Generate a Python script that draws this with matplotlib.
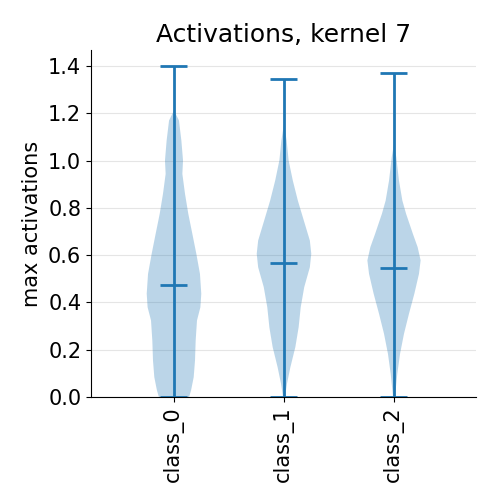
import numpy as np
import matplotlib
matplotlib.use("Agg")
import matplotlib.pyplot as plt

# class names and summary stats
classes = ["class_0", "class_1", "class_2"]
mins = [0.0, 0.0, 0.0]
maxs = [1.40, 1.345, 1.37]
means = [0.472, 0.565, 0.544]

# violin outlines: activation level -> half width (data units)
y_c0 = [0.0, 0.03, 0.086, 0.157, 0.241, 0.326, 0.382, 0.439, 0.523, 0.608, 0.692,
        0.777, 0.862, 0.946, 1.003, 1.087, 1.172, 1.214]
w_c0 = [0.136, 0.155, 0.179, 0.191, 0.197, 0.209, 0.24, 0.248, 0.236, 0.203, 0.167,
        0.13, 0.1, 0.076, 0.082, 0.067, 0.045, 0.0]
y_c1 = [0.0, 0.058, 0.128, 0.213, 0.297, 0.382, 0.467, 0.551, 0.608, 0.664, 0.749,
        0.833, 0.918, 1.003, 1.087, 1.158]
w_c1 = [0.008, 0.027, 0.058, 0.103, 0.133, 0.152, 0.184, 0.235, 0.248, 0.235, 0.18,
        0.126, 0.08, 0.042, 0.024, 0.0]
y_c2 = [0.0, 0.1, 0.185, 0.27, 0.354, 0.439, 0.523, 0.58, 0.636, 0.692, 0.777,
        0.833, 0.918, 1.016, 1.073]
w_c2 = [0.008, 0.03, 0.055, 0.091, 0.136, 0.185, 0.227, 0.242, 0.215, 0.172, 0.11,
        0.076, 0.045, 0.021, 0.0]

profiles = [(y_c0, w_c0), (y_c1, w_c1), (y_c2, w_c2)]

fig, ax = plt.subplots(figsize=(5, 5), dpi=100)
fig.subplots_adjust(left=0.182, right=0.952, bottom=0.206, top=0.9)

pos = np.arange(1, len(classes) + 1)
for p, (yy, ww) in zip(pos, profiles):
    yy = np.array(yy)
    ww = np.array(ww)
    ax.fill_betweenx(yy, p - ww, p + ww, color="C0", alpha=0.3, linewidth=0)

ax.vlines(pos, mins, maxs, color="C0", linewidth=2)
ax.hlines(maxs, pos - 0.125, pos + 0.125, color="C0", linewidth=2)
ax.hlines(mins, pos - 0.125, pos + 0.125, color="C0", linewidth=2)
ax.hlines(means, pos - 0.125, pos + 0.125, color="C0", linewidth=2)

ax.set_xlim(0.25, 3.75)
ax.set_ylim(0, 1.468)
ax.set_xticks(pos)
ax.set_xticklabels(classes, rotation=90)
ax.set_yticks(np.arange(0, 1.41, 0.2))
ax.tick_params(labelsize=15)
ax.yaxis.grid(True, color="#e5e5e5", linewidth=0.8)
ax.set_axisbelow(True)
ax.spines["top"].set_visible(False)
ax.spines["right"].set_visible(False)
ax.set_ylabel("max activations", fontsize=15)
ax.set_title("Activations, kernel 7", fontsize=18)

fig.savefig("out.png")
